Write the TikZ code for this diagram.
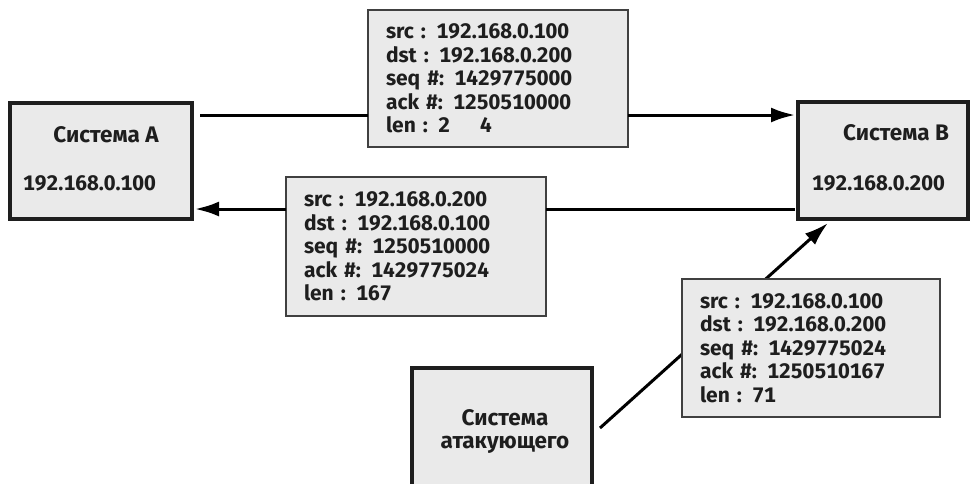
\documentclass[tikz,border=0pt]{standalone}
\usepackage{fontspec}
\setmainfont{Fira Sans}[Numbers=Monospaced]
\usetikzlibrary{arrows.meta}
\definecolor{boxfill}{HTML}{EAEAEA}
\definecolor{ink}{HTML}{1E1E1E}
\tikzset{
  host/.style={draw=ink, line width=3.5pt, fill=boxfill, inner sep=0pt, outer sep=0pt},
  packet/.style={draw=ink!85, line width=2pt, fill=boxfill, inner sep=0pt, outer sep=0pt,
    align=left, inner xsep=18pt, text width=#1, text=ink, font=\bfseries\fontsize{21}{23.4}\selectfont},
  lbl/.style={inner sep=0pt, font=\bfseries\fontsize{21}{23}\selectfont, text=ink},
  ttl/.style={lbl, font=\bfseries\fontsize{22.5}{23}\selectfont},
  wire/.style={draw=black, line width=3pt},
  tip/.style={-{Latex[length=24pt,width=15pt]}}
}
\begin{document}
\begin{tikzpicture}[x=1pt,y=-1pt]
\clip (0,0) rectangle (974,483);
\fill[white] (0,0) rectangle (974,483);

% hosts
\node[host, minimum width=182pt, minimum height=116pt] (A) at (101,161) {};
\node[host, minimum width=170pt, minimum height=117pt] (B) at (883,160.5) {};
\node[host, minimum width=180pt, minimum height=140pt] (X) at (502,438) {};

\node[ttl, anchor=base] (Aname) at (106,142) {Система А};
\node[lbl, anchor=base west] (Aip) at (23,190) {192.168.0.100};
\node[ttl, anchor=base] (Bname) at (896,140) {Система В};
\node[lbl, anchor=base west] (Bip) at (812,190) {192.168.0.200};
\node[ttl, anchor=base] (Xname1) at (505,425) {Система};
\node[ttl, anchor=base] (Xname2) at (505,448) {атакующего};

% coordinates of the horizontal wires and the injected path
\coordinate (r1) at (0,115);
\coordinate (r2) at (0,209);
\coordinate (s3) at (600,428);
\coordinate (t3) at (828,223);

% attacker's injected segment (drawn under its packet box)
\draw[wire, tip] (s3) -- (t3);

% packets
\node[packet=224pt, minimum width=260pt, minimum height=137pt] (P1) at (498,78.5)
  {src\,\,: 192.168.0.100\\dst\,\,: 192.168.0.200\\seq \#: 1429775000\\ack \#: 1250510000\\len\,\,: 2\hspace{30pt}4};
\node[packet=224pt, minimum width=260pt, minimum height=139pt] (P2) at (416,246.5)
  {src\,\,: 192.168.0.200\\dst\,\,: 192.168.0.100\\seq \#: 1250510000\\ack \#: 1429775024\\len\,\,: 167};
\node[packet=222pt, minimum width=258pt, minimum height=138pt] (P3) at (811,348)
  {src\,\,: 192.168.0.100\\dst\,\,: 192.168.0.200\\seq \#: 1429775024\\ack \#: 1250510167\\len\,\,: 71};

% A -> B
\draw[wire] ([xshift=8pt]A.east |- r1) -- (P1.west |- r1);
\draw[wire, tip] (P1.east |- r1) -- ([xshift=-3pt]B.west |- r1);

% B -> A
\draw[wire] ([xshift=-3pt]B.west |- r2) -- (P2.east |- r2);
\draw[wire, tip] (P2.west |- r2) -- ([xshift=3pt]A.east |- r2);
\end{tikzpicture}
\end{document}
